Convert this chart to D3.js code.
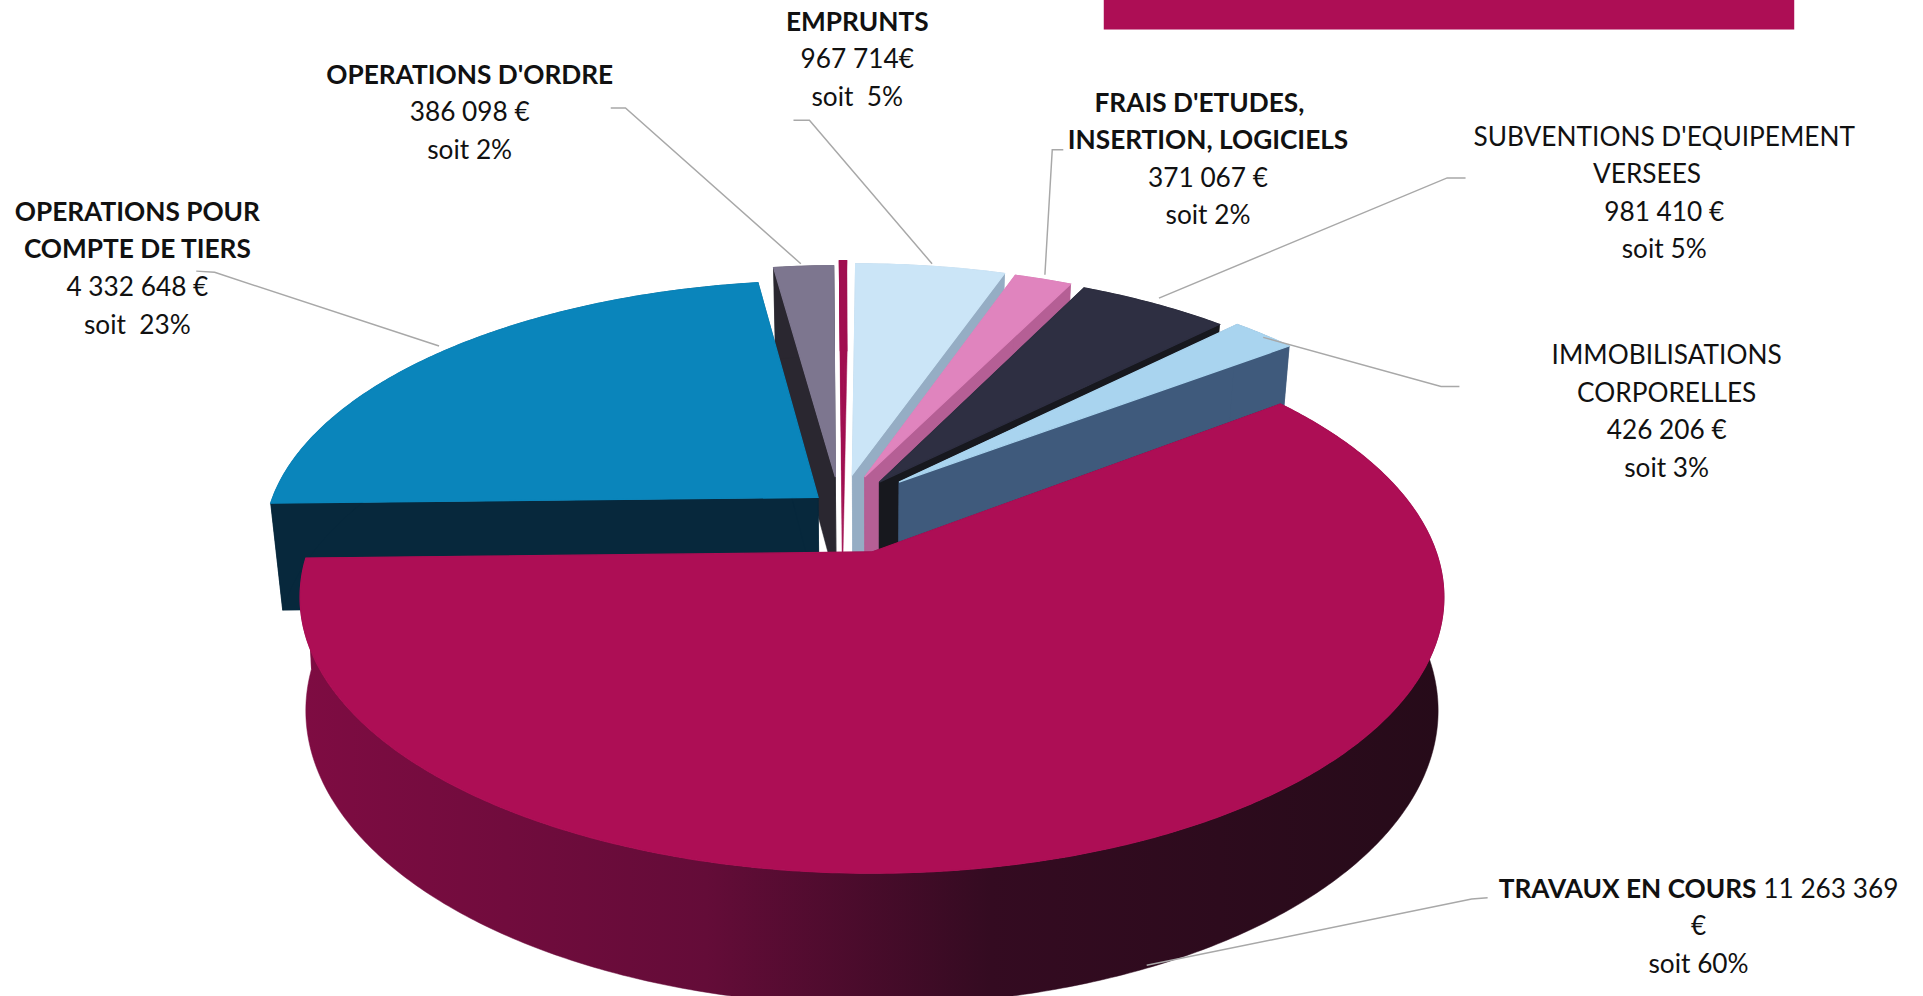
<!DOCTYPE html>
<html><head><meta charset="utf-8">
<script src="https://cdn.jsdelivr.net/npm/d3@7/dist/d3.min.js"></script>
<style>html,body{margin:0;padding:0;background:#fff;overflow:hidden}svg{display:block}</style>
</head><body><div id="chart"></div>
<script>
// --- data
const categories = ["OPERATIONS POUR COMPTE DE TIERS","OPERATIONS D'ORDRE","(sans libellé)","EMPRUNTS","FRAIS D'ETUDES, INSERTION, LOGICIELS","SUBVENTIONS D'EQUIPEMENT VERSEES","IMMOBILISATIONS CORPORELLES","TRAVAUX EN COURS"];
const values = [4332648,386098,47000,967714,371067,981410,426206,11263369];

// --- label text: [bold?, text] runs per line
const labelLines = [
  [[[1,"OPERATIONS POUR"]],[[1,"COMPTE DE TIERS"]],[[0,"4 332 648 €"]],[[0,"soit  23%"]]],
  [[[1,"OPERATIONS D'ORDRE"]],[[0,"386 098 €"]],[[0,"soit 2%"]]],
  [],
  [[[1,"EMPRUNTS"]],[[0,"967 714€"]],[[0,"soit  5%"]]],
  [[[1,"FRAIS D'ETUDES,"]],[[1,"INSERTION, LOGICIELS"]],[[0,"371 067 €"]],[[0,"soit 2%"]]],
  [[[0,"SUBVENTIONS D'EQUIPEMENT"]],[[0,"VERSEES"]],[[0,"981 410 €"]],[[0,"soit 5%"]]],
  [[[0,"IMMOBILISATIONS"]],[[0,"CORPORELLES"]],[[0,"426 206 €"]],[[0,"soit 3%"]]],
  [[[1,"TRAVAUX EN COURS"],[0," 11 263 369"]],[[0,"€"]],[[0,"soit 60%"]]]
];

// --- styles and layout (in the 1568x812 view space)
const topColors  = ["#0a85bb","#7d768f","#a00f50","#cbe5f7","#e084be","#2e2f42","#a9d4ef","#ad0e55"];
const wallColors = ["#07283c","#2a2730","#a00f50","#95adc4","#b55f95","#17181e","#3f5a7c","url(#redWall)"];
const explodeU = [-0.0988,-0.068,-0.056,-0.0365,-0.0137,0.0136,0.05,0];
const explodeV = [0.21,0.292,0.32,0.302,0.292,0.2716,0.2716,0];
const insets = [0.98,0.98,0.98,0.98,0.98,0.98,0.98,0.99];
const drawOrder = [1,2,3,4,5,6,0,7];
const labelX = [112,383,0,699,985,1357,1359,1385];
const labelY = [172.6,60.6,0,17.6,83.6,111.4,289.4,724.4];
const lineXOverride = {"4-0":978,"5-1":1343};
const lineGap = 30.6;
const leaders = [
  [[160,221],[175,222],[358,282]],
  [[498,88],[510,88],[653,215]],
  null,
  [[647,98],[660,98],[760,215]],
  [[867,122],[858,122],[852,224]],
  [[1195,145],[1180,145],[945,243]],
  [[1190,315],[1175,315],[1030,275]],
  [[1213,732],[1200,733],[935,787]]
];
const cx=711, cy=450, radiusX=460, radiusY=219, persp=6.1, thickness=90;
const rotation = -1.3*Math.PI/180;

const svg = d3.select("#chart").append("svg")
  .attr("width",1923).attr("height",996).attr("viewBox","0 0 1568 812");

const grad = svg.append("defs").append("linearGradient").attr("id","redWall")
  .attr("gradientUnits","userSpaceOnUse").attr("x1",250).attr("x2",1180).attr("y1",0).attr("y2",0);
[[0,"#7e0c42"],[0.35,"#640c38"],[0.6,"#340b21"],[1,"#260b19"]].forEach(s=>
  grad.append("stop").attr("offset",s[0]).attr("stop-color",s[1]));

// banner at top
svg.append("rect").attr("x",900).attr("y",-2).attr("width",563).attr("height",26).attr("fill","#ad0e55");

const sx = d3.scaleLinear().domain([0,1]).range([0,radiusX]);
const sy = d3.scaleLinear().domain([0,1]).range([0,radiusY]);
function project(u,v){const s=persp/(persp+v);return {x:cx+sx(u)*s,y:cy-sy(v)*s,s};}
function lowerFor(i){return p=>({x:cx+(p.x-cx)*insets[i],y:p.y+thickness*p.s});}

const pie = d3.pie().sort(null).value(d=>d)
  .startAngle(-Math.PI/2+rotation).endAngle(3*Math.PI/2+rotation);
const arcs = pie(values);
const path = d3.line().x(p=>p.x).y(p=>p.y);

function rimPoints(a,i){
  const n=Math.max(2,Math.ceil((a.endAngle-a.startAngle)/0.01)),pts=[];
  for(let k=0;k<=n;k++){
    const t=a.startAngle+(a.endAngle-a.startAngle)*k/n;
    pts.push(project(Math.sin(t)+explodeU[i],Math.cos(t)+explodeV[i]));
  }
  return pts;
}

const gPie = svg.append("g");
drawOrder.forEach(i=>{
  const a=arcs[i], rim=rimPoints(a,i), apex=project(explodeU[i],explodeV[i]), lower=lowerFor(i);
  const g=gPie.append("g").attr("class","slice");
  const walls=[
    [apex,rim[0],lower(rim[0]),lower(apex)],
    [apex,rim[rim.length-1],lower(rim[rim.length-1]),lower(apex)],
    rim.concat(rim.map(lower).reverse())
  ];
  walls.forEach(w=>g.append("path").attr("d",path(w)+"Z").attr("fill",wallColors[i]).attr("stroke",wallColors[i]).attr("stroke-width",0.4));
  g.append("path").attr("d",path([apex].concat(rim))+"Z").attr("fill",topColors[i]).attr("stroke",topColors[i]).attr("stroke-width",1);
});

// leader lines
svg.append("g").selectAll("path").data(leaders.filter(Boolean)).join("path")
  .attr("d",d=>d3.line()(d)).attr("fill","none").attr("stroke","#a8a8a8").attr("stroke-width",1.2);

// labels
const font="Lato, Carlito, sans-serif";
labelLines.forEach((lines,i)=>{
  lines.forEach((runs,j)=>{
    const key=i+"-"+j;
    const t=svg.append("text")
      .attr("x",lineXOverride[key]!==undefined?lineXOverride[key]:labelX[i])
      .attr("y",labelY[i]+j*lineGap)
      .attr("dy","0.35em").attr("text-anchor","middle")
      .attr("font-family",font).attr("font-size",21.4).attr("fill","#111")
      .attr("xml:space","preserve").style("white-space","pre");
    runs.forEach(r=>t.append("tspan").attr("font-weight",r[0]?700:400).text(r[1]));
  });
});
</script></body></html>
